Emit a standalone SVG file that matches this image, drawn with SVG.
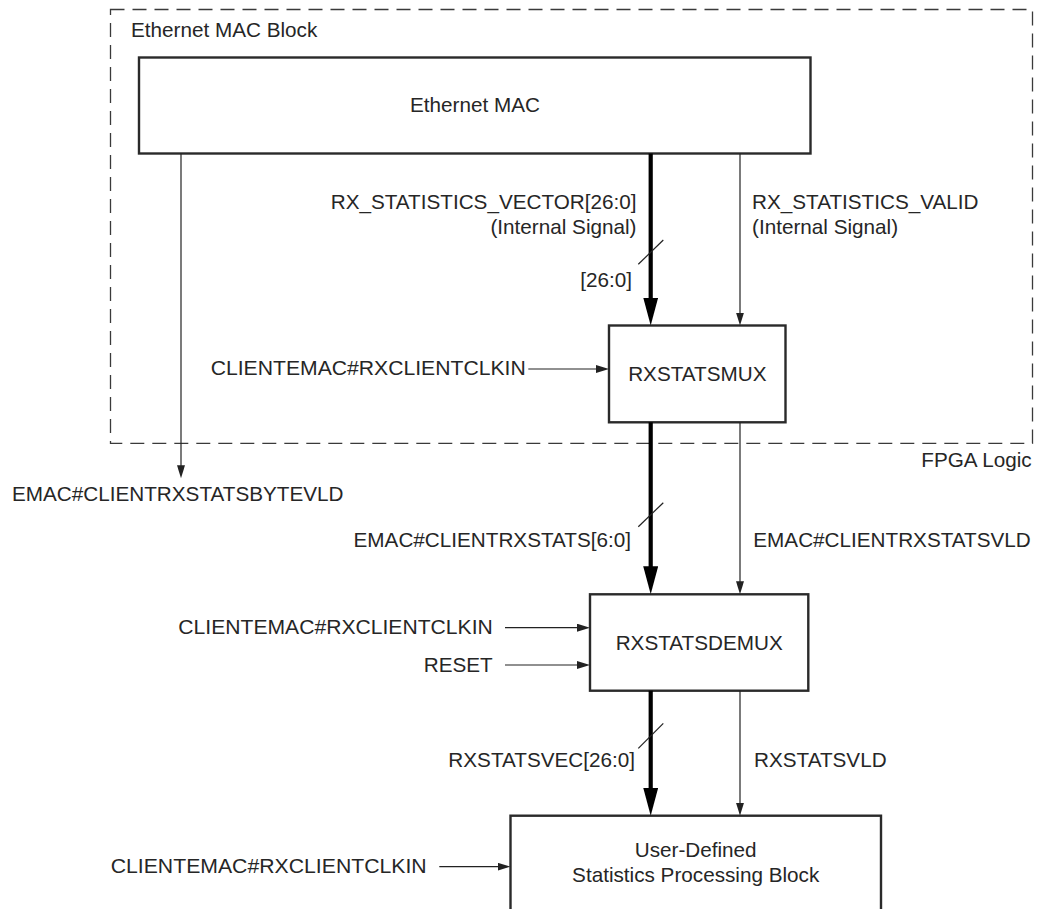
<svg xmlns="http://www.w3.org/2000/svg" width="1049" height="909" viewBox="0 0 1049 909">
  <style>
    text { font-family: "Liberation Sans", Arial, Helvetica, sans-serif; font-size: 20.7px; fill: #262626; }
    .mid { text-anchor: middle; }
    .end { text-anchor: end; }
    .box { fill: #ffffff; stroke: #2a2a2a; stroke-width: 2.4; }
    .region { fill: none; stroke: #3a3a3a; stroke-width: 1.3; stroke-dasharray: 14 8; }
    .thin { fill: none; stroke: #222222; stroke-width: 1.2; marker-end: url(#arrowThin); }
    .bus { fill: none; stroke: #000000; stroke-width: 4.2; marker-end: url(#arrowBus); }
    .tick { fill: none; stroke: #222222; stroke-width: 1.2; }
  </style>
  <defs>
    <marker id="arrowThin" markerUnits="userSpaceOnUse" markerWidth="14" markerHeight="9" refX="9" refY="4" orient="auto">
      <path d="M0,0 L13,4 L0,8 Z" fill="#222222"/>
    </marker>
    <marker id="arrowBus" markerUnits="userSpaceOnUse" markerWidth="29" markerHeight="16" refX="8" refY="7.5" orient="auto">
      <path d="M0,0 L28,7.5 L0,15 Z" fill="#000000"/>
    </marker>
  </defs>

  <rect width="1049" height="909" fill="#ffffff"/>

  <!-- Ethernet MAC Block / FPGA Logic boundary -->
  <g id="mac-block-region">
    <rect class="region" x="110.5" y="9.5" width="922" height="433.8"/>
    <text x="131" y="37">Ethernet MAC Block</text>
    <text class="end" x="1031.7" y="466.7">FPGA Logic</text>
  </g>

  <g id="ethernet-mac">
    <rect class="box" x="139" y="57.5" width="671.5" height="96"/>
    <text class="mid" x="475" y="112">Ethernet MAC</text>
  </g>

  <g id="rxstatsmux">
    <rect class="box" x="609" y="325.5" width="176.5" height="96.8"/>
    <text class="mid" x="697.3" y="380.7">RXSTATSMUX</text>
  </g>

  <g id="rxstatsdemux">
    <rect class="box" x="590" y="594.3" width="218.3" height="96.4"/>
    <text class="mid" x="699.2" y="650">RXSTATSDEMUX</text>
  </g>

  <g id="user-stats-block">
    <rect class="box" x="510.5" y="815.7" width="370.5" height="120"/>
    <text class="mid" x="695.7" y="856.7">User-Defined</text>
    <text class="mid" x="695.7" y="881.7">Statistics Processing Block</text>
  </g>

  <!-- signals -->
  <g id="connectors">
    <!-- Ethernet MAC to RXSTATSMUX -->
    <line class="bus" x1="650.7" y1="153.5" x2="650.7" y2="305.5"/>
    <line class="tick" x1="638.3" y1="264.3" x2="663.3" y2="240"/>
    <line class="thin" x1="740" y1="153.5" x2="740" y2="321.5"/>
    <line class="thin" x1="528.3" y1="369" x2="605" y2="369"/>

    <!-- byte valid straight out of the MAC -->
    <line class="thin" x1="181" y1="153.5" x2="181" y2="474.3"/>

    <!-- RXSTATSMUX to RXSTATSDEMUX -->
    <line class="bus" x1="650.7" y1="422.3" x2="650.7" y2="574.3"/>
    <line class="tick" x1="638.3" y1="526.7" x2="663.3" y2="502.7"/>
    <line class="thin" x1="740" y1="422.3" x2="740" y2="590.3"/>
    <line class="thin" x1="505" y1="627.7" x2="586" y2="627.7"/>
    <line class="thin" x1="505" y1="665" x2="586" y2="665"/>

    <!-- RXSTATSDEMUX to user block -->
    <line class="bus" x1="650.7" y1="690.7" x2="650.7" y2="795.7"/>
    <line class="tick" x1="638.3" y1="748.3" x2="663.3" y2="723.3"/>
    <line class="thin" x1="740" y1="690.7" x2="740" y2="811.7"/>
    <line class="thin" x1="439.3" y1="866.7" x2="506.5" y2="866.7"/>
  </g>

  <g id="signal-labels">
    <text class="end" x="636.5" y="208.5">RX_STATISTICS_VECTOR[26:0]</text>
    <text class="end" x="636.5" y="233.5">(Internal Signal)</text>
    <text class="end" x="632" y="287">[26:0]</text>
    <text x="752" y="209">RX_STATISTICS_VALID</text>
    <text x="752" y="234">(Internal Signal)</text>
    <text x="210.7" y="374.5" textLength="315" lengthAdjust="spacingAndGlyphs">CLIENTEMAC#RXCLIENTCLKIN</text>
    <text x="12" y="501">EMAC#CLIENTRXSTATSBYTEVLD</text>
    <text class="end" x="631" y="546.7">EMAC#CLIENTRXSTATS[6:0]</text>
    <text x="753.3" y="546.7">EMAC#CLIENTRXSTATSVLD</text>
    <text x="178.3" y="633.5" textLength="314.5" lengthAdjust="spacingAndGlyphs">CLIENTEMAC#RXCLIENTCLKIN</text>
    <text class="end" x="492.7" y="671.5">RESET</text>
    <text class="end" x="635" y="766.7">RXSTATSVEC[26:0]</text>
    <text x="754" y="766.7">RXSTATSVLD</text>
    <text x="110.7" y="872.7" textLength="316" lengthAdjust="spacingAndGlyphs">CLIENTEMAC#RXCLIENTCLKIN</text>
  </g>
</svg>
